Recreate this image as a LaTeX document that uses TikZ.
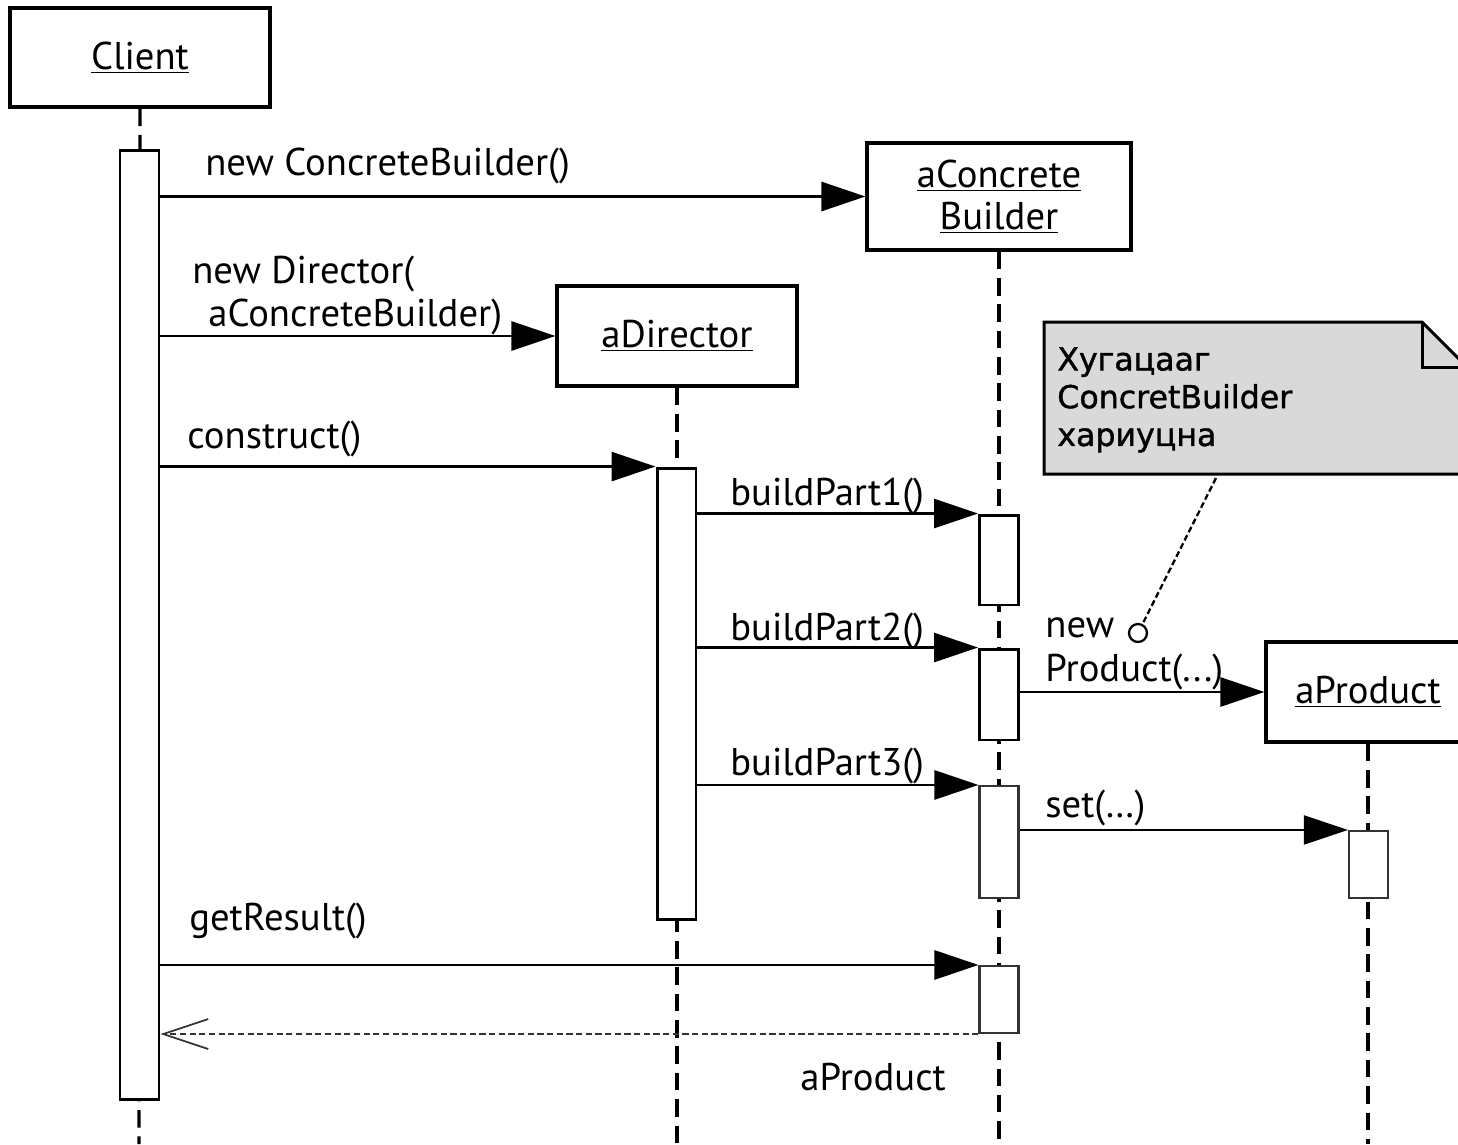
\documentclass[tikz,border=0pt]{standalone}
\usepackage{fontspec}
\setmainfont{PT Sans}
\newfontfamily\notefont[FakeBold=1.2]{DejaVu Sans}
\usetikzlibrary{arrows.meta}

\tikzset{
	obj/.style={draw, line width=1.8pt, fill=white, inner sep=0pt, align=center, font=\fontsize{22}{24}\selectfont},
	act/.style={draw, line width=1.7pt, fill=white, inner sep=0pt, minimum width=0.78cm},
	life/.style={line width=1.8pt, dash pattern=on 10pt off 5pt},
	msg/.style={line width=1.6pt, -{Triangle[length=0.88cm, width=0.58cm]}},
	reply/.style={line width=1.4pt, color=black!80, dash pattern=on 3.5pt off 2pt, -{Straight Barb[length=0.9cm, width=0.6cm, line width=1pt]}},
	lbl/.style={anchor=base west, inner sep=0pt, font=\fontsize{22}{24}\selectfont},
}

\begin{document}
\begin{tikzpicture}[x=0.02cm, y=-0.02cm]
			%%%%% START %%%%%
			\useasboundingbox (0,0) rectangle (1458,1144);
			
			% objects
			\node[obj, minimum width=5.2cm, minimum height=1.98cm] (client) at (140, 57.5) {\underline{Client}};
			\node[obj, minimum width=5.28cm, minimum height=2.14cm] (ccb) at (999, 196.5) {\underline{aConcrete}\\\underline{Builder}};
			\node[obj, minimum width=4.8cm, minimum height=2cm] (dir) at (677, 336) {\underline{aDirector}};
			\node[obj, minimum width=4.08cm, minimum height=2cm] (prod) at (1368, 692) {\underline{aProduct}};
			
			% lifelines
			\coordinate (endC) at (139, 1144);
			\coordinate (endD) at (677, 1144);
			\coordinate (endB) at (999, 1144);
			\coordinate (endP) at (1368, 1144);
			\draw[life] (client.south) -- (endC);
			\draw[life] (dir.south) -- (endD);
			\draw[life] (ccb.south) -- (endB);
			\draw[life] (prod.south) -- (endP);
			
			% activations
			\node[act, minimum height=19cm] (actC) at (139.5, 625) {};
			\node[act, minimum height=9.04cm] (actD) at (676.5, 694) {};
			\node[act, minimum height=1.8cm] (actB1) at (999, 560) {};
			\node[act, minimum height=1.82cm] (actB2) at (999, 694.5) {};
			\node[act, minimum height=2.24cm, line width=1.2pt, draw=black!80] (actB3) at (999, 842) {};
			\node[act, minimum height=1.34cm, line width=1.2pt, draw=black!80] (actB4) at (999, 999.5) {};
			\node[act, minimum height=1.34cm, line width=1.2pt, draw=black!80] (actP) at (1368.5, 864.5) {};
			
			% note
			\draw[line width=1.7pt, fill=black!15] (1044, 322) -- (1422, 322) -- (1467, 367) -- (1467, 474) -- (1044, 474) -- cycle;
			\draw[line width=1.7pt] (1422, 322) -- (1422, 367) -- (1467, 367);
			\node[anchor=north west, inner sep=0pt, align=left, font=\notefont\fontsize{18}{21.5}\selectfont] (noteText) at (1057, 347) {Хугацааг\\ConcretBuilder\\хариуцна};
			\node[circle, draw, line width=1.3pt, minimum size=0.36cm, inner sep=0pt] (knob) at (1138, 633) {};
			\coordinate (noteTail) at (1216, 478);
			\draw[line width=1.3pt, dash pattern=on 3.4pt off 1.8pt] (noteTail) -- (knob);
			
			% messages
			\draw[msg] (actC.east |- ccb.west) -- (ccb.west);
			\node[lbl] (mNewCB) at (205, 175) {new ConcreteBuilder()};
			
			\draw[msg] (actC.east |- dir.west) -- (dir.west);
			\node[lbl] (mNewDir) at (192, 283) {new Director(};
			\node[lbl] (mNewDirArg) at (208, 326) {aConcreteBuilder)};
			
			\draw[msg] (actC.east |- actD.north west) -- (actD.north west);
			\node[lbl] (mConstruct) at (187, 448) {construct()};
			
			\draw[msg] (actD.east |- actB1.north west) -- (actB1.north west);
			\node[lbl] (mPart1) at (730, 505) {buildPart1()};
			
			\draw[msg] (actD.east |- actB2.north west) -- (actB2.north west);
			\node[lbl] (mPart2) at (730, 640) {buildPart2()};
			
			\draw[msg] (actB2.east |- prod.west) -- (prod.west);
			\node[lbl] (mNewProd) at (1045, 637) {new};
			\node[lbl] (mNewProdArg) at (1045, 681) {Product(...)};
			
			\draw[msg] (actD.east |- actB3.north west) -- (actB3.north west);
			\node[lbl] (mPart3) at (730, 775) {buildPart3()};
			
			\draw[msg, line width=1.2pt] (actB3.east |- actP.north west) -- (actP.north west);
			\node[lbl] (mSet) at (1045, 817) {set(\dots)};
			
			\draw[msg] (actC.east |- actB4.north west) -- (actB4.north west);
			\node[lbl] (mGetResult) at (189, 930) {getResult()};
			
			\draw[reply] (actB4.south west) -- (actC.east |- actB4.south west);
			\node[lbl] (mReturn) at (800, 1090) {aProduct};
			
			%%%%% END %%%%%
\end{tikzpicture}
\end{document}
